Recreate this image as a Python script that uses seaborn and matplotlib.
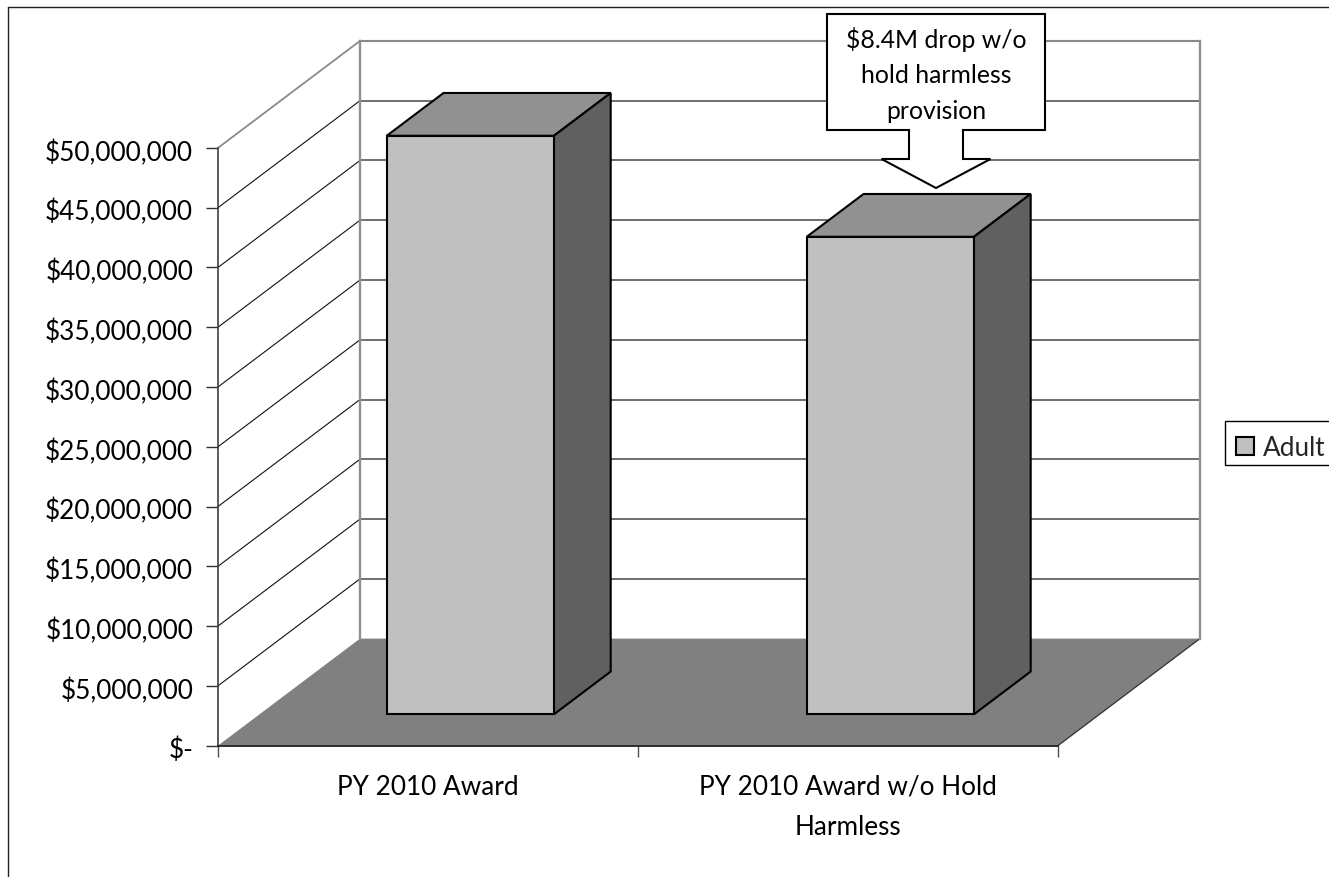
import matplotlib
matplotlib.use("Agg")
import matplotlib.pyplot as plt
import seaborn as sns
import pandas as pd
from matplotlib.patches import Polygon, Rectangle
from matplotlib.lines import Line2D
from matplotlib.transforms import IdentityTransform, Affine2D

categories = ["PY 2010 Award", "PY 2010 Award w/o Hold\nHarmless"]
award_values = [48400000, 39950000]
series_name = "Adult"
tick_values = [0, 5000000, 10000000, 15000000, 20000000, 25000000,
               30000000, 35000000, 40000000, 45000000, 50000000]
tick_labels = ["$-", "$5,000,000", "$10,000,000", "$15,000,000", "$20,000,000",
               "$25,000,000", "$30,000,000", "$35,000,000", "$40,000,000",
               "$45,000,000", "$50,000,000"]
callout_text = "$8.4M drop w/o\nhold harmless\nprovision"

W, H = 1329, 878
sns.set_theme(style="white")
plt.rcParams["font.family"] = ["Lato", "DejaVu Sans"]
FS = 18.8

fig = plt.figure(figsize=(W / 100, H / 100), dpi=100, facecolor="white")
ax = fig.add_axes([218.0 / W, (H - 746.6) / H, 840 / W, 597.7 / H])
ax.patch.set_visible(False)

df = pd.DataFrame({"cat": categories, "val": award_values})
sns.barplot(data=df, x="cat", y="val", color="#C0C0C0", saturation=1, width=0.398,
            edgecolor="black", linewidth=1.5, label=series_name, ax=ax, zorder=6)
ax.set_xlim(-0.5, 1.5)
ax.set_ylim(0, 50000000)
ax.set_xlabel("")
ax.set_ylabel("")
for s in ax.spines.values():
    s.set_visible(False)

# oblique projection: depth 0..1 shifts by these data-unit amounts
DX = 142 / 420
DY = 107 / 597.7 * 50000000


def P(x, v, d):
    return (x + d * DX, v + d * DY)


def seg(p, q, **kw):
    ax.plot([p[0], q[0]], [p[1], q[1]], clip_on=False, solid_capstyle="projecting", **kw)


# floor
ax.add_patch(Polygon([P(-0.5, 0, 0), P(1.5, 0, 0), P(1.5, 0, 1), P(-0.5, 0, 1)],
                     closed=True, fc="#808080", ec="none", clip_on=False, zorder=1))
seg(P(1.5, 0, 0), P(1.5, 0, 1), color="#303030", lw=0.9, zorder=1.5)
seg(P(-0.5, 0, 0), P(1.5, 0, 0), color="#202020", lw=1.3, zorder=3)

# walls
top = tick_values[-1]
for v in tick_values[1:]:
    c = "#8a8a8a" if v == top else "#101010"
    lw = 1.3 if v == top else 0.8
    seg(P(-0.5, v, 0), P(-0.5, v, 1), color=c, lw=lw, zorder=2)
    seg(P(-0.5, v, 1), P(1.5, v, 1), color="#8a8a8a" if v == top else "#555555",
        lw=1.5 if v == top else 1.2, zorder=2)
seg(P(-0.5, 0, 1), P(-0.5, top, 1), color="#8f8f8f", lw=1.7, zorder=2.2)
seg(P(1.5, 0, 1), P(1.5, top, 1), color="#8f8f8f", lw=1.7, zorder=2.2)
seg(P(-0.5, 0, 0), P(-0.5, top, 0), color="#404040", lw=1.2, zorder=2.5)

# bars moved into depth, with top and side faces
D0, D1 = 0.298, 0.298 + 0.4
LIFT = -0.006 * DY  # bars sit a touch lower than the pure oblique shift
for bar in ax.patches:
    if not isinstance(bar, matplotlib.patches.Rectangle):
        continue
    x0, w, v = bar.get_x(), bar.get_width(), bar.get_height()
    bar.set_x(x0 + D0 * DX)
    bar.set_y(D0 * DY + LIFT)
    bar.set_clip_on(False)
    bar.set_joinstyle("miter")
    x1 = x0 + w
    ax.add_patch(Polygon([P(x0, v + LIFT, D0), P(x1, v + LIFT, D0),
                          P(x1, v + LIFT, D1), P(x0, v + LIFT, D1)],
                         closed=True, fc="#919191", ec="black", lw=1.5,
                         clip_on=False, zorder=5))
    ax.add_patch(Polygon([P(x1, LIFT, D0), P(x1, v + LIFT, D0),
                          P(x1, v + LIFT, D1), P(x1, LIFT, D1)],
                         closed=True, fc="#606060", ec="black", lw=1.5,
                         clip_on=False, zorder=5))

# ticks
ax.set_yticks(tick_values, tick_labels)
ax.tick_params(axis="y", left=True, length=8.4, width=1, color="#303030", pad=9.5,
               labelsize=FS, labelcolor="black")
for t in ax.get_yticklabels():
    t.set_transform(t.get_transform() + Affine2D().translate(0, -1.5))
ax.set_xticks([0, 1], categories)
ax.tick_params(axis="x", bottom=False, length=0, pad=20.2, labelsize=FS, labelcolor="black")
for t in ax.get_xticklabels():
    t.set_linespacing(1.76)
ax.set_xticks([-0.5, 0.5, 1.5], minor=True)
ax.tick_params(axis="x", which="minor", bottom=True, length=7.6, width=1, color="#505050")

# callout
px = [(827, 15), (1045, 15), (1045, 131), (963, 131), (963, 160), (990.5, 160), (936, 189),
      (881.5, 160), (909, 160), (909, 131), (827, 131)]
ax.add_patch(Polygon([(x, H - y) for x, y in px], closed=True, transform=IdentityTransform(),
                     fc="white", ec="black", lw=1.5, clip_on=False, zorder=8))
ax.text(936, H - 75, callout_text, transform=IdentityTransform(), ha="center", va="center",
        fontsize=17.8, color="black", linespacing=1.68, zorder=9)

# legend: contents sit low in a separately drawn box
ax.add_patch(Rectangle((1225, H - 466), 130, 44, transform=IdentityTransform(), fc="white",
                       ec="black", lw=1, clip_on=False, zorder=9))
leg = ax.legend(loc="upper left", bbox_to_anchor=(1225, H - 425),
                bbox_transform=IdentityTransform(), fontsize=FS, frameon=False,
                borderaxespad=0, borderpad=0.41,
                handlelength=0.69, handleheight=0.69, handletextpad=0.35)
leg.set_zorder(10)

# chart frame
for (xa, ya), (xb, yb) in [((8, 8), (W, 8)), ((8, 8), (8, H))]:
    fig.add_artist(Line2D([xa, xb], [H - ya, H - yb], transform=IdentityTransform(),
                          color="#202020", lw=1))

fig.savefig("out.png", dpi=100)
